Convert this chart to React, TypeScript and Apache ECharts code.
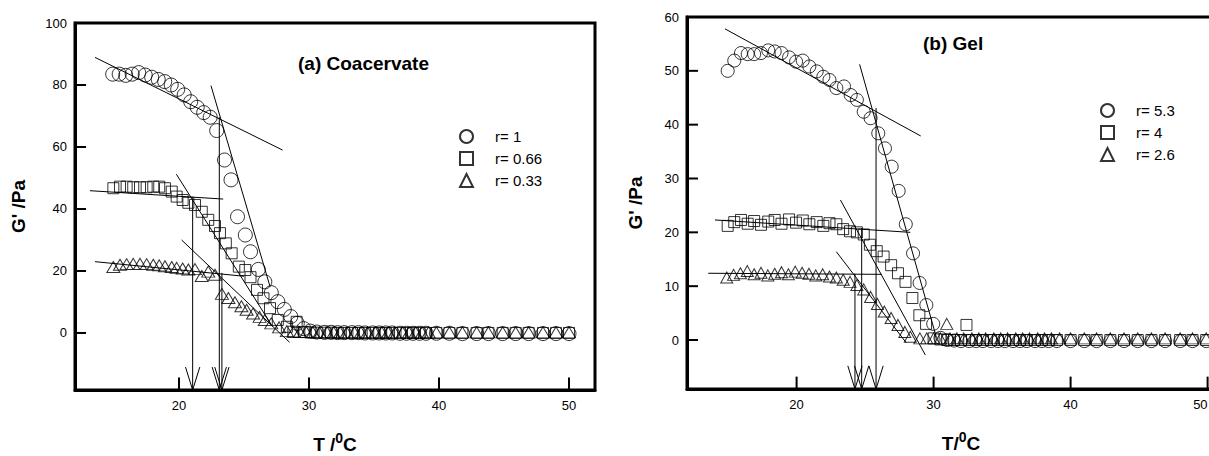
import React, { useEffect, useRef } from "react";
import * as echarts from "echarts";

// ---------- Panel (a) Coacervate : [T (°C), G' (Pa)] ----------
const coacR1: number[][] = [
  [14.9, 83.5], [15.4, 83.5], [15.9, 83.1], [16.4, 83.5], [16.9, 84.0], [17.4, 83.2], [17.9, 82.5],
  [18.4, 81.8], [18.9, 81.1], [19.4, 80.0], [19.9, 78.6], [20.4, 76.8], [20.9, 74.6], [21.4, 72.8],
  [21.9, 71.1], [22.4, 69.6], [22.9, 65.3], [23.5, 55.8], [24.0, 49.4], [24.5, 37.5], [25.1, 31.6],
  [25.5, 26.2], [26.1, 20.5], [26.6, 16.5], [27.1, 13.0], [27.6, 10.1], [28.1, 7.6], [28.6, 5.3],
  [29.1, 3.1], [29.6, 1.4], [30.1, 0.6], [30.6, 0.3], [31.2, 0.2], [31.7, 0.2], [32.2, 0.1],
  [32.7, 0.1], [33.3, 0.1], [33.8, 0.1], [34.3, 0.0], [34.9, 0.0], [35.4, 0.0], [35.9, 0.0],
  [36.4, 0.0], [37.0, -0.1], [37.5, -0.1], [38.0, -0.1], [38.5, -0.1], [39.0, -0.1], [39.8, -0.1],
  [40.8, -0.1], [41.8, -0.2], [42.9, -0.2], [43.8, -0.2], [44.9, -0.2], [45.9, -0.2], [46.9, -0.2],
  [48.0, -0.2], [49.0, -0.2], [50.0, -0.2],
];
const coacR066: number[][] = [
  [14.95, 46.7], [15.46, 47.2], [15.97, 47.2], [16.48, 47.0], [17.0, 47.0], [17.51, 47.0],
  [18.02, 47.2], [18.48, 47.2], [18.92, 46.7], [19.44, 45.6], [19.82, 44.0], [20.28, 42.9],
  [20.72, 42.0], [21.23, 41.3], [21.75, 39.1], [22.25, 36.5], [22.77, 34.5], [23.15, 32.2],
  [23.6, 28.9], [24.05, 25.7], [24.6, 21.4], [25.1, 20.3], [25.5, 18.0], [26.0, 13.9], [26.5, 11.2],
  [27.0, 8.0], [27.6, 4.2], [28.3, 2.0], [28.8, 0.4], [29.05, 3.6], [29.6, 0.3], [30.1, 0.2],
  [30.6, 0.1], [31.2, 0.1], [31.7, 0.1], [32.2, 0.0], [32.7, 0.0], [33.3, 0.0], [33.8, 0.0],
  [34.3, 0.0], [34.9, 0.0], [35.4, 0.0], [35.9, 0.0], [36.4, 0.0], [37.0, 0.0], [37.5, 0.0],
  [38.0, 0.0], [38.5, 0.0], [39.0, 0.0], [39.8, 0.0], [40.8, 0.0], [41.8, 0.0], [42.9, 0.0],
  [43.8, 0.0], [44.9, 0.0], [45.9, 0.0], [46.9, 0.0], [48.0, 0.0], [49.0, 0.0], [50.0, 0.0],
];
const coacR033: number[][] = [
  [14.95, 21.3], [15.46, 22.0], [15.97, 22.2], [16.48, 22.3], [17.0, 22.3], [17.51, 22.2],
  [18.02, 22.0], [18.48, 21.8], [18.92, 21.5], [19.44, 21.3], [19.82, 21.0], [20.28, 20.8],
  [20.72, 20.5], [21.23, 20.6], [21.75, 18.4], [22.25, 19.8], [22.77, 18.8], [23.3, 12.6],
  [23.8, 11.3], [24.3, 9.9], [24.8, 8.6], [25.2, 7.5], [25.7, 6.3], [26.2, 5.2], [26.6, 4.2],
  [27.1, 3.1], [27.7, 1.8], [28.3, 0.6], [28.8, 0.4], [29.3, 0.3], [29.8, 0.3], [30.3, 0.2],
  [30.8, 0.2], [31.4, 0.2], [31.9, 0.2], [32.4, 0.2], [32.9, 0.2], [33.5, 0.2], [34.0, 0.2],
  [34.5, 0.2], [35.1, 0.2], [35.6, 0.2], [36.1, 0.2], [36.6, 0.2], [37.2, 0.2], [37.7, 0.2],
  [38.2, 0.2], [38.7, 0.2], [39.2, 0.2], [39.8, 0.2], [40.8, 0.2], [41.8, 0.2], [42.9, 0.2],
  [43.8, 0.2], [44.9, 0.2], [45.9, 0.2], [46.9, 0.2], [48.0, 0.2], [49.0, 0.2], [50.0, 0.2],
];
// tangent lines (two end points each)
const coacFitR1Plateau = [[13.54, 88.9], [27.97, 59.0]];
const coacFitR1Steep = [[22.46, 79.8], [27.0, 15.0]];
const coacFitR066Plateau = [[13.15, 45.9], [23.4, 43.2]];
const coacFitR066Steep = [[19.8, 51.2], [27.2, 2.0]];
const coacFitR033Plateau = [[13.54, 23.0], [25.0, 18.3]];
const coacFitR033Steep = [[20.2, 30.0], [28.5, -3.0]];
// onset arrows: [T, G' at intersection]
const coacArrows = [[23.1, 69.6], [21.05, 43.5], [23.3, 19.4]];

// ---------- Panel (b) Gel ----------
const gelR53: number[][] = [
  [14.97, 50.0], [15.45, 51.9], [15.94, 53.3], [16.43, 53.1], [16.9, 53.1], [17.4, 53.3],
  [17.93, 53.8], [18.4, 53.6], [18.9, 53.3], [19.45, 52.5], [19.96, 51.7], [20.45, 51.9],
  [20.93, 50.8], [21.47, 49.9], [21.95, 48.9], [22.4, 48.3], [22.9, 46.8], [23.46, 47.1],
  [23.95, 45.5], [24.4, 44.6], [24.9, 42.4], [25.4, 41.2], [25.96, 38.4], [26.45, 35.6],
  [26.94, 32.2], [27.45, 27.7], [27.97, 21.5], [28.5, 16.1], [28.98, 10.6], [29.47, 6.5],
  [29.97, 3.0], [30.5, 0.4], [31.0, 0.0], [31.5, -0.1], [32.0, -0.2], [32.6, -0.2], [33.1, -0.2],
  [33.6, -0.2], [34.2, -0.2], [34.7, -0.2], [35.2, -0.2], [35.8, -0.2], [36.3, -0.2], [36.8, -0.2],
  [37.4, -0.2], [37.9, -0.2], [38.4, -0.2], [39.0, -0.2], [40.0, -0.2], [41.0, -0.2], [41.9, -0.2],
  [42.9, -0.2], [43.9, -0.2], [44.9, -0.2], [45.9, -0.2], [46.9, -0.2], [48.0, -0.2], [48.9, -0.2],
  [49.9, -0.2], [51.0, -0.2],
];
const gelR4: number[][] = [
  [14.97, 21.2], [15.45, 21.9], [15.94, 22.3], [16.43, 21.6], [16.9, 22.1], [17.4, 21.4],
  [17.93, 22.0], [18.4, 22.3], [18.9, 21.6], [19.45, 22.4], [19.96, 21.8], [20.45, 22.2],
  [20.93, 21.5], [21.47, 21.9], [21.95, 21.2], [22.4, 21.7], [22.9, 21.5], [23.4, 20.6],
  [23.9, 20.2], [24.4, 20.0], [24.9, 19.6], [25.35, 17.7], [25.85, 16.5], [26.35, 15.5],
  [26.9, 13.9], [27.4, 12.4], [27.95, 10.8], [28.45, 7.8], [28.96, 4.6], [29.45, 3.0],
  [30.0, 0.3], [30.5, 0.1], [31.0, 0.0], [31.5, 0.0], [32.0, 0.0], [32.4, 2.8], [32.6, 0.0],
  [33.1, 0.0], [33.6, 0.0], [34.2, 0.0], [34.7, 0.0], [35.2, 0.0], [35.8, 0.0], [36.3, 0.0],
  [36.8, 0.0], [37.4, 0.0], [37.9, 0.0], [38.4, 0.0], [39.0, 0.0], [40.0, 0.0], [41.0, 0.0],
  [41.9, 0.0], [42.9, 0.0], [43.9, 0.0], [44.9, 0.0], [45.9, 0.0], [46.9, 0.0], [48.0, 0.0],
  [48.9, 0.0], [49.9, 0.0], [51.0, 0.0],
];
const gelR26: number[][] = [
  [14.9, 11.6], [15.4, 12.1], [15.9, 12.4], [16.4, 12.8], [16.9, 12.2], [17.4, 12.5],
  [17.9, 12.0], [18.4, 12.3], [18.9, 12.6], [19.4, 12.2], [19.9, 12.7], [20.4, 12.5],
  [20.9, 12.3], [21.4, 12.0], [21.9, 12.2], [22.4, 11.8], [22.9, 11.6], [23.4, 11.2],
  [23.9, 10.8], [24.4, 10.2], [24.9, 9.4], [25.4, 8.0], [25.9, 6.7], [26.4, 5.3], [26.9, 4.1],
  [27.4, 2.8], [27.9, 1.5], [28.3, 0.6], [29.0, 0.3], [29.5, 0.3], [30.0, 0.3], [30.96, 3.0],
  [30.5, 0.3], [31.2, 0.3], [31.7, 0.3], [32.2, 0.3], [32.8, 0.3], [33.3, 0.3], [33.8, 0.3],
  [34.4, 0.3], [34.9, 0.3], [35.4, 0.3], [36.0, 0.3], [36.5, 0.3], [37.0, 0.3], [37.6, 0.3],
  [38.1, 0.3], [38.6, 0.3], [39.2, 0.3], [40.0, 0.3], [41.0, 0.3], [41.9, 0.3], [42.9, 0.3],
  [43.9, 0.3], [44.9, 0.3], [45.9, 0.3], [46.9, 0.3], [48.0, 0.3], [48.9, 0.3], [49.9, 0.3],
  [51.0, 0.3],
];
const gelFitR53Plateau = [[14.77, 57.8], [29.06, 37.9]];
const gelFitR53Steep = [[24.6, 51.2], [30.2, 0.5]];
const gelFitR4Plateau = [[14.04, 22.3], [28.3, 20.0]];
const gelFitR4Steep = [[23.2, 26.0], [29.4, -2.8]];
const gelFitR26Plateau = [[13.55, 12.4], [26.2, 12.2]];
const gelFitR26Steep = [[22.9, 16.4], [28.0, -0.5]];
const gelArrows = [[25.8, 43.1], [24.75, 20.8], [24.26, 12.3]];

// ---------- axes ----------
const xTicks = [20, 30, 40, 50];
const yTicksA = [0, 20, 40, 60, 80, 100];
const yTicksB = [0, 10, 20, 30, 40, 50, 60];
const xRange = [12, 52];
const yRangeA = [-18.4, 100];
const yRangeB = [-9.1, 60];

const FONT = "Liberation Sans, Arial, sans-serif";
const hollow = { color: "rgba(255,255,255,0)", borderColor: "#000", borderWidth: 1 };

function scatter(name: string, data: number[][], symbol: string, size: any, idx: number) {
  return {
    type: "scatter", name, data, symbol, symbolSize: size,
    xAxisIndex: idx, yAxisIndex: idx, itemStyle: hollow, silent: true, z: 3,
  };
}
function seg(data: number[][], idx: number, color: string, width: number) {
  return {
    type: "line", data, xAxisIndex: idx, yAxisIndex: idx, showSymbol: false, symbol: "none",
    lineStyle: { color, width }, silent: true, z: 4, clip: false,
  };
}
function fit(data: number[][], idx: number) {
  return seg(data, idx, "#000", 1);
}
function arrowSeries(arrows: number[][], yMin: number, headW: number, headH: number, idx: number) {
  const out: any[] = [];
  arrows.forEach(([t, g]) => {
    out.push(fit([[t, g], [t, yMin]], idx));
    out.push(fit([[t - headW, yMin + headH], [t, yMin], [t + headW, yMin + headH]], idx));
  });
  return out;
}
// inward tick marks drawn from the axis frame (length in data units of the other axis)
function tickSeries(xs: number[], ys: number[], xMin: number, yMin: number, xLen: number, yLen: number, idx: number) {
  const out: any[] = [];
  xs.forEach((t) => { out.push(seg([[t, yMin], [t, yMin + yLen]], idx, "#000", 2)); });
  ys.forEach((g) => { out.push(seg([[xMin, g], [xMin + xLen, g]], idx, "#000", 2)); });
  return out;
}

function xAxis(idx: number) {
  return {
    type: "value", gridIndex: idx, min: xRange[0], max: xRange[1],
    axisLine: { show: true, onZero: false, lineStyle: { color: "#000", width: 3 } },
    splitLine: { show: false },
    axisTick: { show: false },
    axisLabel: {
      customValues: xTicks, margin: 9, fontSize: 13, color: "#000", fontFamily: FONT,
      alignMaxLabel: idx === 1 ? "right" : "center",
    },
    name: idx === 0 ? "T /{s|0}C" : "T/{s|0}C",
    nameLocation: "middle", nameGap: 41,
    nameTextStyle: {
      fontSize: 19, fontWeight: "bold", color: "#000", fontFamily: FONT, lineHeight: 26,
      rich: { s: { fontSize: 14, fontWeight: "bold", fontFamily: FONT, verticalAlign: "top", lineHeight: 14 } },
    },
  };
}
function yAxis(idx: number, range: number[], ticks: number[], gap: number) {
  return {
    type: "value", gridIndex: idx, min: range[0], max: range[1],
    axisLine: { show: true, onZero: false, lineStyle: { color: "#000", width: 3 } },
    splitLine: { show: false },
    axisTick: { show: false },
    axisLabel: { customValues: ticks, margin: 8, fontSize: 13, color: "#000", fontFamily: FONT },
    name: "G' /Pa", nameLocation: "middle", nameGap: gap, nameRotate: 90,
    nameTextStyle: { fontSize: 19, fontWeight: "bold", color: "#000", fontFamily: FONT, lineHeight: 20 },
  };
}

function legend(names: string[], left: number, top: number) {
  return {
    data: names, left, top, orient: "vertical", padding: 0, itemGap: 7,
    itemWidth: 13, itemHeight: 13, selectedMode: false,
    textStyle: { fontSize: 15, color: "#000", fontFamily: FONT, lineHeight: 14, padding: [0, 0, 0, 17] },
  };
}

export default function App() {
  const ref = useRef<HTMLDivElement>(null);
  useEffect(() => {
    const chart = echarts.init(ref.current!, null, { renderer: "svg" });
    const gridBase = { show: true, borderColor: "#000", borderWidth: 3, outerBoundsMode: "none" };
    const option: any = {
      animation: false,
      backgroundColor: "#fff",
      textStyle: { fontFamily: FONT },
      grid: [
        { ...gridBase, left: 75, top: 23, width: 520, height: 367 },
        { ...gridBase, left: 687, top: 17, width: 548, height: 372 },
      ],
      xAxis: [xAxis(0), xAxis(1)],
      yAxis: [yAxis(0, yRangeA, yTicksA, 47), yAxis(1, yRangeB, yTicksB, 42)],
      legend: [
        legend(["r= 1", "r= 0.66", "r= 0.33"], 459, 129),
        legend(["r= 5.3", "r= 4", "r= 2.6"], 1100, 103),
      ],
      graphic: [
        { type: "text", x: 298, y: 63, style: { text: "(a) Coacervate", fontSize: 19, fontWeight: "bold", fontFamily: FONT, fill: "#000", verticalAlign: "middle" } },
        { type: "text", x: 923, y: 43, style: { text: "(b) Gel", fontSize: 19, fontWeight: "bold", fontFamily: FONT, fill: "#000", verticalAlign: "middle" } },
      ],
      series: [
        scatter("r= 1", coacR1, "circle", 14, 0),
        scatter("r= 0.66", coacR066, "rect", 11, 0),
        scatter("r= 0.33", coacR033, "triangle", [13, 11], 0),
        fit(coacFitR1Plateau, 0), fit(coacFitR1Steep, 0),
        fit(coacFitR066Plateau, 0), fit(coacFitR066Steep, 0),
        fit(coacFitR033Plateau, 0), fit(coacFitR033Steep, 0),
        ...arrowSeries(coacArrows, yRangeA[0], 0.55, 7.4, 0),
        ...tickSeries(xTicks, yTicksA.filter((v) => v < yRangeA[1]), xRange[0], yRangeA[0], 0.85, 4.0, 0),
        scatter("r= 5.3", gelR53, "circle", 13, 1),
        scatter("r= 4", gelR4, "rect", 11, 1),
        scatter("r= 2.6", gelR26, "triangle", [12, 11], 1),
        fit(gelFitR53Plateau, 1), fit(gelFitR53Steep, 1),
        fit(gelFitR4Plateau, 1), fit(gelFitR4Steep, 1),
        fit(gelFitR26Plateau, 1), fit(gelFitR26Steep, 1),
        ...arrowSeries(gelArrows, yRangeB[0], 0.52, 4.3, 1),
        ...tickSeries(xTicks, yTicksB.filter((v) => v < yRangeB[1]), xRange[0], yRangeB[0], 0.8, 2.3, 1),
      ],
    };
    chart.setOption(option);
    return () => chart.dispose();
  }, []);
  return (
    <div style={{ position: "absolute", left: 0, top: 0, width: 1209, height: 456, overflow: "hidden", background: "#fff" }}>
      <div ref={ref} style={{ width: 1250, height: 456 }} />
    </div>
  );
}
